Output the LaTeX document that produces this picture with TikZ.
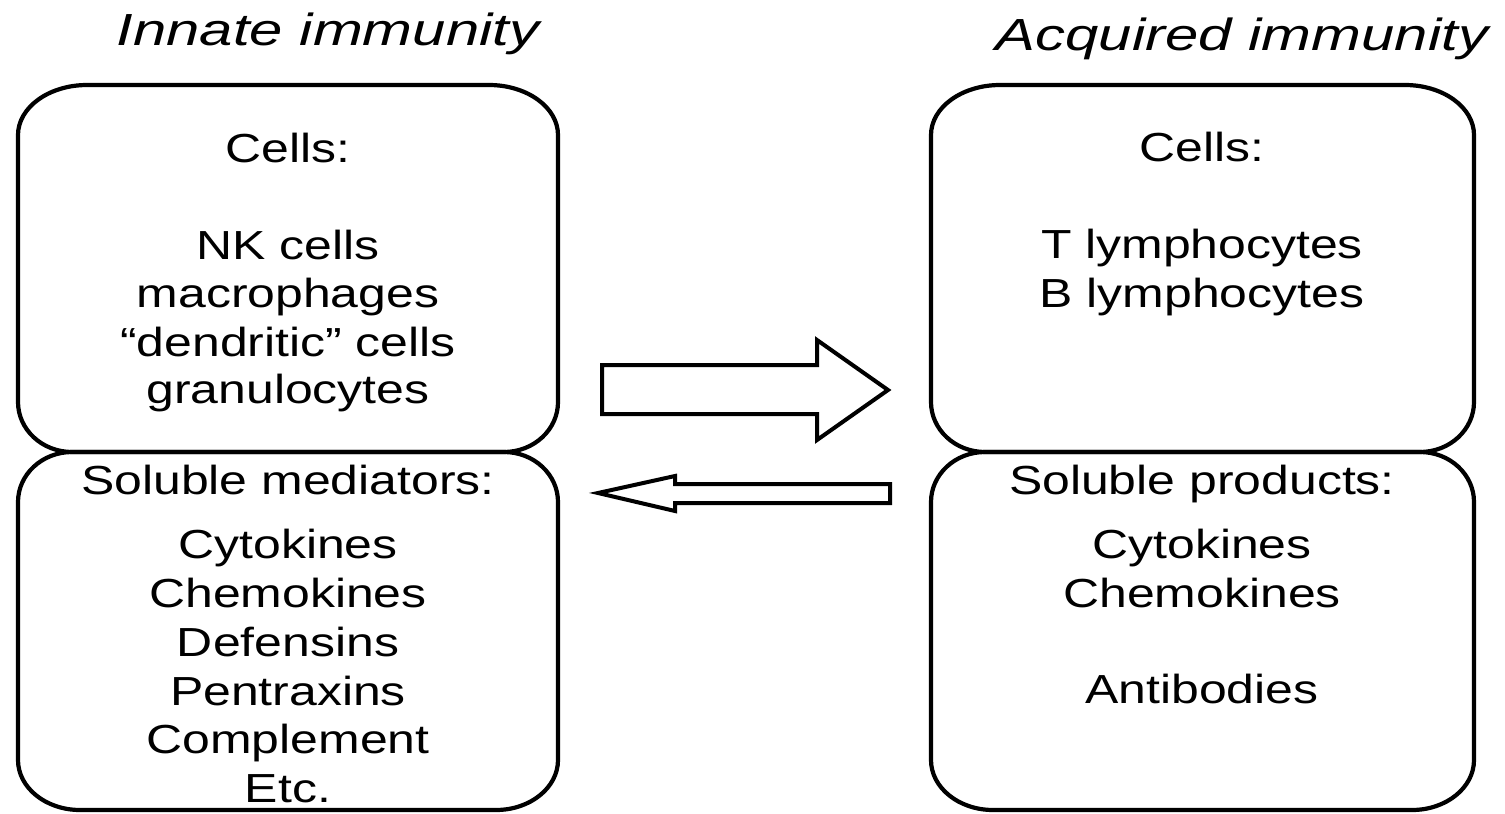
\documentclass[tikz,border=0pt]{standalone}
\usepackage{fontspec}
\newfontfamily\bodyfont{Liberation Sans}[FakeStretch=1.23]
\newfontfamily\titlefont{Liberation Sans}[FakeStretch=1.33]
\newcommand{\immbox}[7]{%
\draw[boxline] ({#1+#5},#2) -- ({#3-#5},#2)
 .. controls ({#3-0.4477*#5},#2) and (#3,{#2+0.4477*#7}) .. (#3,{#2+#7})
 -- (#3,{#4-#7})
 .. controls (#3,{#4-0.4477*#7}) and ({#3-0.4477*#6},#4) .. ({#3-#6},#4)
 -- ({#1+#6},#4)
 .. controls ({#1+0.4477*#6},#4) and (#1,{#4-0.4477*#7}) .. (#1,{#4-#7})
 -- (#1,{#2+#7})
 .. controls (#1,{#2+0.4477*#7}) and ({#1+0.4477*#5},#2) .. ({#1+#5},#2) -- cycle;}
\begin{document}
\begin{tikzpicture}[x=1pt,y=-1pt,
  boxline/.style={line width=4.2pt, draw=black},
  arrowline/.style={line width=4pt, draw=black, fill=white, line join=miter},
  body/.style={anchor=base, inner sep=0pt, text=black, font=\bodyfont\fontsize{40.6}{48}\selectfont},
  title/.style={anchor=base, inner sep=0pt, text=black, font=\titlefont\itshape\fontsize{45}{54}\selectfont}]
\useasboundingbox (0,0) rectangle (1505,814);
\fill[white] (0,0) rectangle (1505,814);

% titles
\node[title] (tinnate) at (328,45) {Innate immunity};
\node[title] (tacq) at (1242,50) {Acquired immunity};

% boxes
\immbox{18}{85}{558}{452}{69}{54}{50}
\immbox{18}{452}{558}{810}{54}{62}{50}
\immbox{931}{85}{1474}{452}{69}{54}{50}
\immbox{931}{452}{1474}{810}{54}{62}{50}

% left top text
\node[body] (lcells) at (288,162) {Cells:};
\node[body] (lnk) at (288,259) {NK cells};
\node[body] (lmac) at (288,307) {macrophages};
\node[body] (ldc) at (288,356) {“dendritic” cells};
\node[body] (lgran) at (288,403) {granulocytes};

% left bottom text
\node[body] (lsol) at (288,494) {Soluble mediators:};
\node[body] (lcyt) at (288,558) {Cytokines};
\node[body] (lchem) at (288,607) {Chemokines};
\node[body] (ldef) at (288,656) {Defensins};
\node[body] (lpen) at (288,705) {Pentraxins};
\node[body] (lcomp) at (288,753) {Complement};
\node[body] (letc) at (288,802) {Etc.};

% right top text
\node[body] (rcells) at (1202,161) {Cells:};
\node[body] (rt) at (1202,258) {T lymphocytes};
\node[body] (rb) at (1202,307) {B lymphocytes};

% right bottom text
\node[body] (rsol) at (1202,494) {Soluble products:};
\node[body] (rcyt) at (1202,558) {Cytokines};
\node[body] (rchem) at (1202,607) {Chemokines};
\node[body] (rab) at (1202,703) {Antibodies};

% block arrows
\draw[arrowline] (602,365) -- (817,365) -- (817,340) -- (888,390) -- (817,440) -- (817,414) -- (602,414) -- cycle;
\draw[arrowline] (890,484) -- (675,484) -- (675,476) -- (598,493) -- (675,511) -- (675,503) -- (890,503) -- cycle;
\end{tikzpicture}
\end{document}
